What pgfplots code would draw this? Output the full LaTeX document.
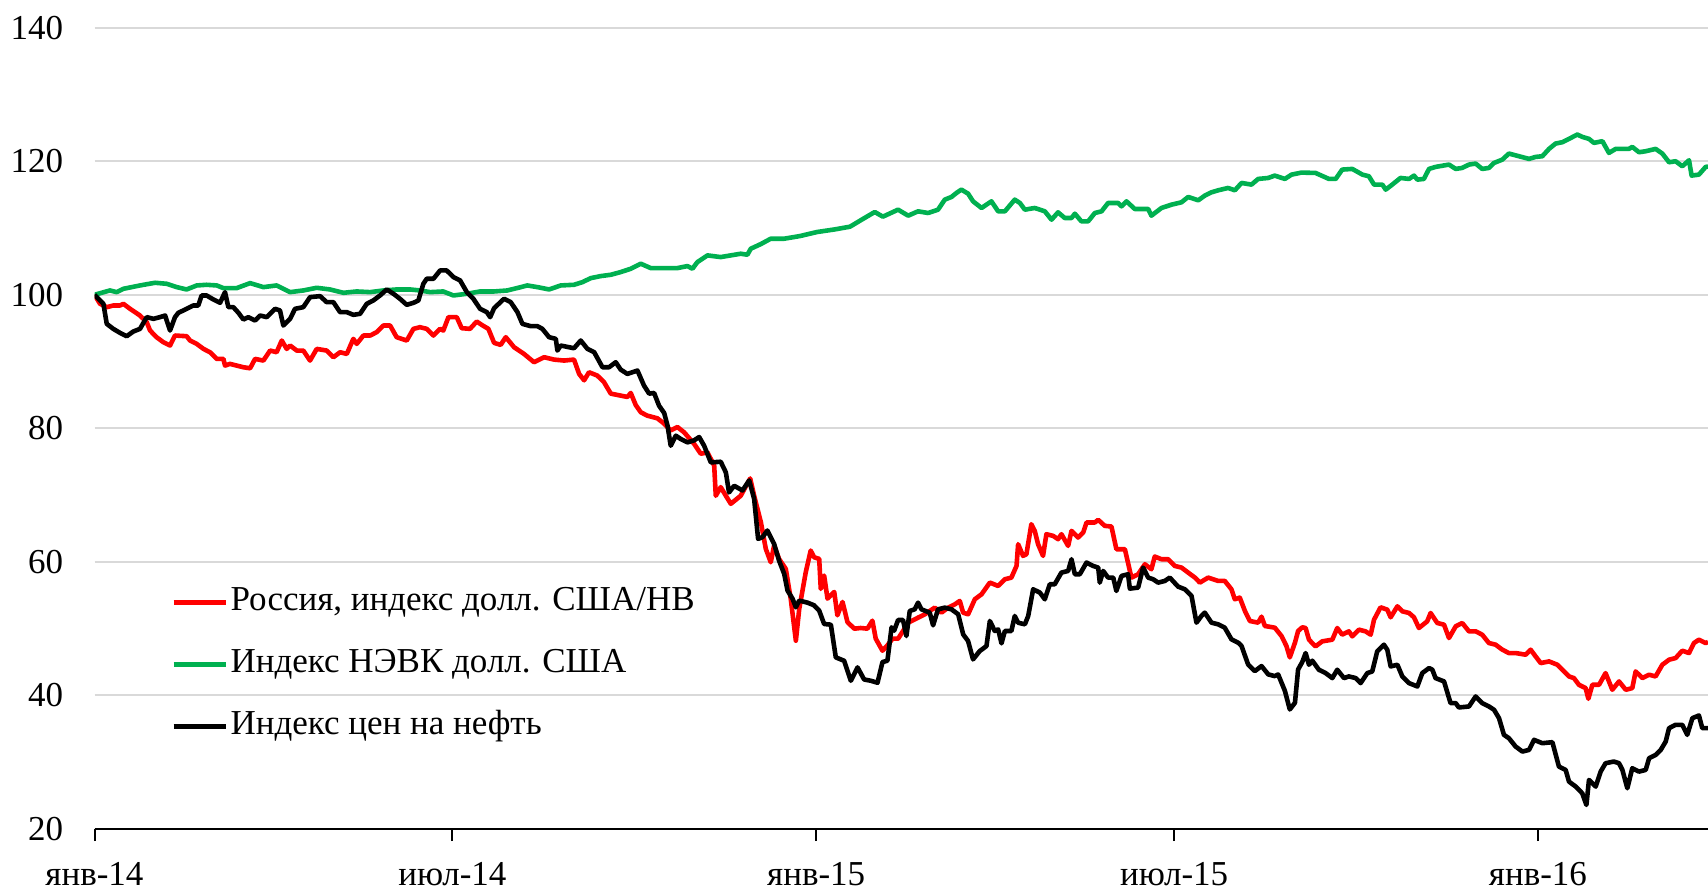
\documentclass[border=0pt]{standalone}
\usepackage{fontspec}
\setmainfont{Liberation Serif}
\usepackage{pgfplots}
\pgfplotsset{compat=1.18}
\definecolor{ruRed}{RGB}{255,0,0}
\definecolor{nGreen}{RGB}{0,176,80}
\definecolor{gridGray}{RGB}{217,217,217}
\begin{document}
\begin{tikzpicture}
\useasboundingbox (0,0) rectangle (854pt,445pt);
\begin{axis}[
  at={(47.25pt,30.5pt)}, anchor=south west,
  scale only axis, width=806.75pt, height=400.65pt,
  xmin=0, xmax=816, ymin=20, ymax=140,
  axis x line*=bottom, axis y line*=left,
  y axis line style={draw=none},
  x axis line style={line width=1pt, black, -},
  ytick={20,40,...,140},
  ymajorgrids, grid style={gridGray, line width=1pt},
  ytick style={draw=none},
  xtick={0,181,365,546,730},
  xticklabels={янв-14,июл-14,янв-15,июл-15,янв-16},
  xtick style={black, line width=1pt},
  tick align=outside, major tick length=6pt,
  ticklabel style={font=\fontsize{17.5}{20}\selectfont},
  /pgf/number format/assume math mode=true,
  yticklabel style={anchor=east, inner sep=0pt, xshift=-9.5pt},
  xticklabel style={anchor=north, inner sep=0pt, text height=11.6pt, yshift=-10.5pt},
  legend style={at={(0.0474,0.3023)}, anchor=north west, draw=none, fill=none, inner sep=0pt, row sep=15.6pt, font=\fontsize{17.5}{20}\selectfont, nodes={inner sep=0pt, text height=11.6pt, text depth=3.8pt}, /tikz/every odd column/.append style={column sep=1.3pt}},
  legend cell align=left,
  legend image code/.code={\draw[#1] (0pt,0pt) -- (26pt,0pt);},
  every axis plot/.append style={line width=2.3pt, line join=round},
]
\addplot[ruRed] coordinates {
(0,100) (2.8,98.65) (6.2,98.15) (9.5,98.4) (12.9,98.4) (14.6,98.65) (18,97.9) (23,96.9) (26.4,95.9) (28.1,94.65) (31.4,93.65) (34.8,92.9) (38.2,92.4) (40.7,93.9) (46.6,93.8) (48.3,93.15) (51.7,92.65) (55.1,91.9) (58.4,91.4) (61.8,90.4) (65.2,90.4) (66,89.4) (68.5,89.65) (71.9,89.4) (75.3,89.15) (78.7,89) (81.2,90.4) (85.4,90.15) (88.8,91.65) (92.1,91.4) (94.7,93.15) (97.2,91.9) (98.9,92.4) (102.3,91.65) (105.6,91.65) (109,90.15) (112.4,91.9) (117.4,91.65) (120.8,90.65) (124.2,91.4) (127.6,91.15) (130.9,93.4) (132.6,92.65) (136,93.9) (139.4,93.9) (142.7,94.4) (146.1,95.4) (149.5,95.4) (152.8,93.65) (157.9,93.15) (161.3,94.9) (164.6,95.15) (168,94.9) (171.4,93.9) (174.8,94.9) (176.4,94.65) (179,96.65) (183.2,96.65) (185.7,95) (189.9,94.9) (193.3,96) (195.8,95.5) (199.2,94.9) (202.1,92.8) (205.4,92.5) (208,93.65) (212.2,92.15) (217.2,91.15) (222.3,89.9) (227.4,90.65) (232.4,90.3) (237.5,90.15) (242.5,90.3) (245.1,88.15) (247.6,87.2) (250.1,88.4) (254.3,87.9) (257.7,86.9) (261.1,85.2) (266.1,84.9) (269.5,84.7) (271.2,85.3) (273.7,83.5) (276.3,82.4) (279.6,81.9) (284.7,81.5) (288.1,80.7) (291.4,79.7) (294.8,80.2) (298.2,79.4) (303.2,77.7) (306.6,76.2) (310,76.4) (313.4,74.4) (314.2,69.9) (316.7,71.2) (319.3,69.9) (321.8,68.7) (326.8,69.9) (331.6,72.5) (333.6,69.9) (337,65.95) (339.5,61.95) (342,59.95) (343.7,62.45) (346.2,60.45) (349.6,58.95) (352.1,54.5) (354.7,48.2) (356.4,52.95) (359.7,58.45) (362.2,61.7) (363.9,60.7) (366.5,60.45) (367.3,55.95) (369,57.95) (370.7,54.5) (374.1,55.5) (375.7,52) (378.3,54) (380.8,51) (384.2,50) (387.5,50.1) (390.9,50) (393.4,51.2) (395.1,48.5) (398.5,46.7) (401,47.5) (403.6,48.5) (406.4,48.5) (408.9,49.65) (411.5,50.9) (416.5,51.65) (419.9,52.15) (424.9,53.15) (428.3,52.4) (431.7,53.15) (435.1,53.65) (437.6,54.15) (439.3,52.4) (441.8,52.15) (445.2,54.4) (448.6,55.15) (452.8,56.9) (457,56.4) (460.4,57.4) (463.7,57.65) (466.3,59.4) (467.1,62.65) (469.6,60.9) (471.3,61.15) (473.8,65.65) (475.5,64.65) (477.2,62.65) (479.7,60.9) (481.4,64.15) (484.8,63.9) (487.3,63.4) (489,64.15) (492.4,62.4) (494.1,64.65) (497.4,63.65) (500,64.4) (501.7,65.9) (505.9,65.9) (507.6,66.3) (510.9,65.4) (514.3,65.3) (516.8,61.9) (521.1,61.9) (524.4,57.65) (527.8,58.15) (531.2,59.65) (534.5,58.9) (536.2,60.8) (539.6,60.4) (543,60.4) (546.3,59.4) (549.7,59.15) (553.1,58.4) (556.5,57.65) (559,56.9) (563.2,57.65) (568.3,57.15) (571.6,57.15) (575,55.9) (576.7,54.4) (579.2,54.65) (581.8,52.65) (584.3,51.15) (588.5,50.9) (590.2,51.8) (591.9,50.4) (596.9,50.15) (600.3,48.9) (602.8,47.4) (604.5,45.7) (607.1,47.9) (608.7,49.65) (610.8,50.2) (612.5,50.1) (614.2,48.35) (617.5,47.35) (620.9,48.1) (626,48.35) (628.5,50.1) (631,49.1) (634.4,49.6) (636.1,48.85) (639.5,49.85) (642.8,49.6) (645.4,49.1) (647.1,51.35) (650.4,53.2) (653.8,52.85) (655.5,51.7) (658.9,53.35) (661.4,52.6) (664.8,52.35) (667.3,51.7) (669.8,50.1) (674,51.1) (675.7,52.35) (679.1,50.85) (682.5,50.6) (685,48.6) (688.4,50.35) (691.7,50.85) (695.1,49.6) (698.5,49.6) (701.8,49.1) (705.2,47.85) (708.6,47.6) (712,46.85) (715.3,46.35) (718.7,46.35) (723.8,46.1) (726.3,46.85) (728.8,45.85) (731.4,44.85) (735.6,45.1) (739.8,44.6) (742.3,43.85) (745.7,42.85) (748.2,42.6) (750.7,41.6) (754.1,41.1) (755.5,39.5) (757.5,41.6) (760.9,41.6) (764.2,43.35) (767.6,40.85) (771,42.1) (774.4,40.85) (777.7,41.1) (779.4,43.6) (782.8,42.6) (786.2,43.1) (789.5,42.85) (792.9,44.6) (796.3,45.35) (799.6,45.6) (803,46.7) (806.4,46.35) (808.9,47.85) (811.4,48.35) (814.8,47.85) (816,48)
};
\addlegendentry{Россия, индекс долл. США/НВ}
\addplot[nGreen] coordinates {
(0,100) (7.8,100.65) (11.2,100.4) (14.6,100.9) (23,101.4) (30.6,101.8) (36.5,101.65) (41.6,101.15) (46.6,100.8) (51.7,101.4) (56.7,101.5) (61.8,101.4) (65.2,101) (71.9,101) (78.7,101.75) (85.4,101.15) (92.1,101.4) (98.9,100.4) (105.6,100.65) (112.4,101.05) (119.1,100.8) (125.9,100.3) (132.6,100.5) (139.4,100.4) (146.1,100.65) (152.8,100.8) (159.6,100.8) (164.6,100.65) (169.7,100.4) (176.4,100.5) (181.5,99.9) (188.3,100.15) (195,100.5) (202.1,100.5) (208.8,100.65) (215.6,101.15) (218.9,101.4) (224,101.15) (229.9,100.8) (235.8,101.4) (242.5,101.5) (246.8,101.9) (251,102.5) (256,102.8) (261.1,103) (266.1,103.4) (271.2,103.9) (276.3,104.65) (281.3,104) (286.4,104) (294.8,104) (299.9,104.3) (302.4,103.9) (304.9,104.9) (310,105.9) (316.7,105.65) (321.8,105.9) (326.8,106.15) (330.2,106) (331.9,106.9) (337,107.6) (342,108.4) (348.8,108.4) (356.8,108.8) (365.4,109.4) (374.5,109.8) (382.1,110.2) (387.7,111.2) (394.6,112.4) (398.7,111.7) (406.4,112.75) (411.5,111.85) (416.5,112.5) (421.6,112.25) (426.6,112.75) (430,114.25) (433.4,114.65) (435.9,115.25) (438.4,115.75) (441.8,115.15) (444.3,114) (448.6,113) (453.6,114) (457,112.5) (460.4,112.5) (465.4,114.25) (468,113.75) (470.5,112.75) (475.5,113) (480.6,112.5) (484,111.25) (487.3,112.35) (490.7,111.5) (494.1,111.5) (495.8,112.15) (499.1,111) (502.5,111) (505.9,112.25) (509.3,112.5) (512.6,113.75) (517.7,113.75) (519.4,113.25) (521.9,114) (526.1,112.85) (532.9,112.85) (534.5,111.85) (539.6,113) (544.7,113.5) (549.7,113.85) (553.1,114.65) (558.2,114.15) (561.5,114.85) (564.9,115.35) (568.3,115.65) (573.3,116) (576.7,115.65) (580.1,116.75) (585.1,116.5) (588.5,117.35) (593.6,117.5) (596.9,117.85) (602,117.35) (605.4,118) (610.4,118.3) (617.5,118.25) (624.3,117.35) (627.7,117.35) (631,118.75) (636.1,118.85) (641.2,118) (644.5,117.75) (647.1,116.5) (651.3,116.5) (653,115.75) (656.3,116.5) (660.5,117.5) (664.8,117.35) (667.3,117.85) (669,117.25) (672.3,117.35) (674.9,118.85) (678.2,119.15) (685,119.5) (688.4,118.85) (691.7,119) (695.1,119.5) (698.5,119.65) (701.8,118.85) (705.2,119) (707.8,119.75) (712,120.25) (715.3,121.15) (720.4,120.75) (725.5,120.35) (728.8,120.65) (732.2,120.75) (735.6,121.85) (738.9,122.65) (742.3,122.85) (745.7,123.35) (749.9,124) (752.4,123.65) (755.8,123.35) (758.3,122.75) (762.6,123) (765.9,121.25) (769.3,121.85) (776,121.85) (777.7,122.15) (781.1,121.35) (784.5,121.5) (789.5,121.85) (792.9,121.15) (796.3,119.85) (799.6,120) (803,119.25) (806.4,120.15) (807.7,117.85) (811.4,118) (814.8,119.15) (816,119.2)
};
\addlegendentry{Индекс НЭВК долл. США}
\addplot[black] coordinates {
(0,100) (4.5,98.65) (6.2,95.65) (9.5,94.9) (12.9,94.3) (16.3,93.8) (19.6,94.5) (23,94.9) (26.4,96.65) (29.8,96.4) (33.1,96.65) (35.7,96.9) (38.2,94.65) (40.7,96.65) (42.4,97.3) (46.6,97.9) (50,98.4) (52.5,98.4) (54.2,99.9) (56.7,99.9) (60.1,99.3) (63.5,98.8) (66,100.4) (67.7,98.15) (70.2,98.15) (72.8,97.3) (75.3,96.3) (77.8,96.65) (81.2,96.15) (83.7,96.9) (87.1,96.65) (91.3,97.9) (93.8,97.65) (95.5,95.4) (98.9,96.4) (101.4,97.9) (105.6,98.15) (109,99.65) (114.1,99.8) (117.4,98.9) (120.8,98.9) (124.2,97.4) (127.6,97.4) (130.9,97) (134.3,97.15) (137.7,98.65) (141,99.15) (144.4,99.9) (147.8,100.8) (151.2,100.15) (154.5,99.4) (157.9,98.5) (161.3,98.8) (163.8,99.15) (166.3,101.65) (168,102.4) (171.4,102.4) (174.8,103.65) (178.1,103.65) (181.5,102.65) (184.9,102.15) (188.3,100.4) (191.6,99.4) (195,97.9) (198.4,97.4) (200.1,96.65) (202.1,98) (207.1,99.4) (210.5,98.9) (213.9,97.4) (216.4,95.65) (220.6,95.3) (224,95.3) (226.5,94.9) (229.9,93.65) (233.3,93.4) (234.1,91.65) (235.8,92.4) (242.5,92) (245.9,93.15) (249.3,91.9) (252.7,91.4) (256.9,89.15) (260.2,89.15) (263.6,89.9) (266.1,88.8) (269.5,88.15) (274.6,88.65) (277.9,86.4) (280.5,85.2) (283,85.3) (285.5,83.4) (288.1,82.3) (289.8,80.4) (291.4,77.4) (294,78.9) (296.5,78.4) (299.9,77.9) (303.2,78.2) (305.8,78.7) (308.3,77.4) (311.7,74.9) (316.7,75) (319.3,73.4) (320.9,70.4) (323.5,71.4) (327.7,70.7) (331.1,72.2) (333.6,69.45) (335.6,63.45) (337.8,63.7) (340.3,64.7) (343.7,62.7) (346.2,60.2) (348.8,58.2) (350.5,55.7) (353,54.5) (354.7,53.2) (356.4,54.2) (360.6,53.9) (363.9,53.5) (366.5,52.7) (369,50.7) (372.4,50.6) (374.9,45.7) (379.1,45.2) (382.5,42.2) (385.9,44.2) (389.2,42.4) (392.6,42.2) (396,41.9) (398.5,45) (401,45.2) (403.1,50.2) (404.4,49.7) (406.4,51.3) (408.9,51.3) (410.6,48.9) (412.3,52.65) (414.8,52.9) (416.5,53.9) (418.2,52.9) (422.4,52.4) (424.1,50.5) (426.6,52.9) (430,53.15) (433.4,52.9) (436.8,52.15) (439.3,49.15) (441.8,48.15) (444.3,45.4) (447.7,46.65) (451.1,47.4) (452.8,51.15) (455.3,49.65) (457,49.9) (458.7,47.8) (460.4,49.65) (463.7,49.65) (465.4,51.9) (467.1,50.9) (470.5,50.65) (472.2,51.9) (474.7,55.9) (478.1,55.4) (480.6,54.4) (483.1,56.65) (485.6,56.65) (489,58.4) (492.4,58.65) (494.1,60.4) (495.8,58.15) (498.3,58.15) (501.7,59.9) (505,59.4) (507.6,59.15) (508.4,56.9) (510.1,58.65) (512.6,57.65) (515.2,57.65) (516.8,55.65) (519.4,57.9) (522.7,58.15) (523.6,56) (527.8,56.15) (530.3,59.15) (532.9,57.65) (535.4,57.4) (537.9,56.9) (541.3,57.15) (543.8,57.65) (548,56.3) (551.4,55.9) (554.8,54.9) (557.3,50.9) (559.8,51.9) (561.5,52.4) (564.9,50.9) (568.3,50.65) (571.6,50.15) (575,48.4) (578.4,47.9) (580.1,47.4) (583.4,44.65) (586.8,43.65) (590.2,44.4) (593.6,43.15) (596.9,42.9) (598.6,43.15) (602,40.7) (604.5,37.9) (607.1,38.9) (608.7,43.9) (610.8,45) (612.5,46.35) (614.2,44.6) (615.9,45.2) (619.2,43.85) (622.6,43.35) (626,42.6) (628.5,43.85) (631.9,42.6) (634.4,42.85) (637.8,42.6) (640.3,41.85) (643.7,43.35) (646.2,43.6) (648.7,46.6) (652.1,47.6) (653.8,46.85) (655.5,44.35) (658.9,44.6) (661.4,42.85) (664.8,41.85) (669,41.35) (671.5,43.35) (674.9,44.1) (676.6,43.85) (678.2,42.6) (682.5,42.1) (685.8,38.85) (688.4,38.85) (690,38.2) (695.1,38.35) (698.5,39.85) (701.8,38.85) (705.2,38.35) (707.8,37.85) (710.3,36.6) (712.8,34.1) (715.3,33.6) (718.7,32.35) (722.1,31.6) (725.5,31.85) (728,33.35) (732.2,32.85) (737.3,33) (740.6,29.35) (744,28.85) (745.7,27.1) (749.1,26.35) (752.4,25.35) (754.5,23.6) (755.8,27.35) (759.2,26.35) (761.7,28.6) (764.2,29.85) (768.4,30.1) (771,29.85) (772.7,28.85) (775.2,26.1) (777.7,29.1) (781.1,28.6) (784.5,28.85) (786.2,30.6) (789.5,31.1) (792.1,31.85) (794.6,33.1) (796.3,35.1) (799.6,35.6) (803,35.6) (805.5,34.1) (808.1,36.6) (811.4,37) (813.1,35.1) (816,35.1)
};
\addlegendentry{Индекс цен на нефть}
\end{axis}
\end{tikzpicture}
\end{document}
